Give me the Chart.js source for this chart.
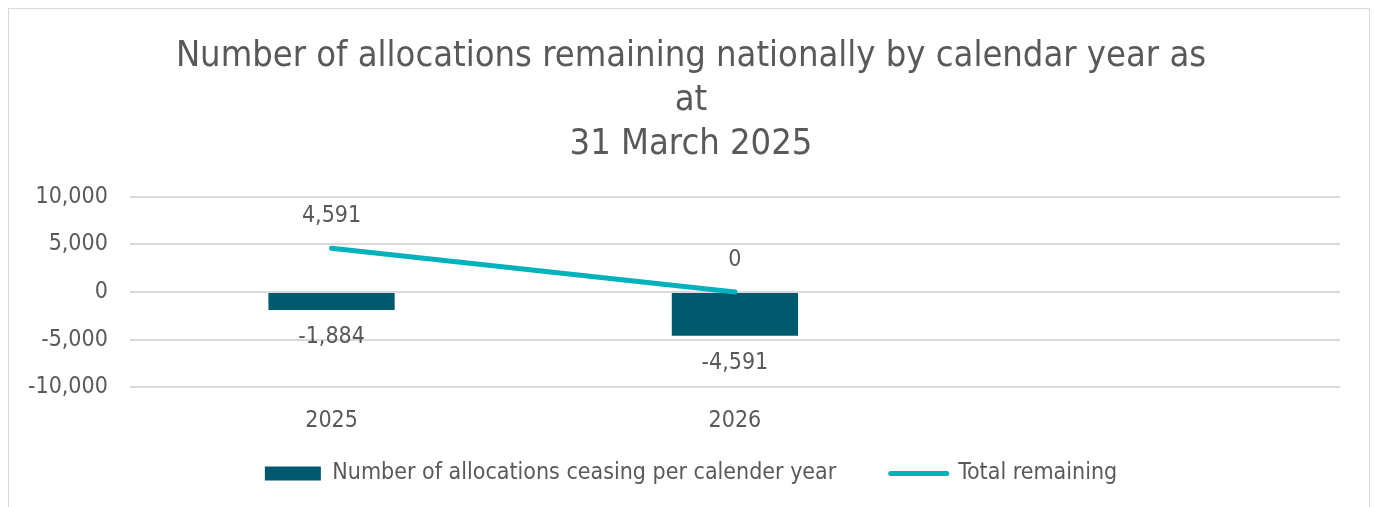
<!DOCTYPE html>
<html>
<head>
<meta charset="utf-8">
<script src="https://cdn.jsdelivr.net/npm/chart.js@4.4.1/dist/chart.umd.min.js"></script>
<style>
  html, body { margin: 0; padding: 0; background: #fff; }
  #wrap { position: relative; width: 1375px; height: 507px; overflow: hidden; }
  #frame { position: absolute; left: 8px; top: 8px; width: 1362px; height: 520px; border: 1px solid #d9d9d9; box-sizing: border-box; }
  canvas { position: absolute; left: 0; top: 0; }
</style>
</head>
<body>
<div id="wrap">
  <div id="frame"></div>
  <canvas id="chart" width="1375" height="507"></canvas>
</div>
<script>
// Data
const YEARS = ['2025', '2026', ''];
const CEASING = [-1884, -4591, null];
const REMAINING = [4591, 0, null];
const TITLE = ['Number of allocations remaining nationally by calendar year as', 'at', '31 March 2025'];
const SERIES_NAMES = ['Number of allocations ceasing per calender year', 'Total remaining'];

const FONT = '"DejaVu Sans Condensed", "DejaVu Sans", sans-serif';
const GREY = '#595959';
const BAR = '#005a6e';
const LINE = '#00b2bb';

// value labels, Excel style: above the line points, below the bar ends
const valueLabels = {
  id: 'valueLabels',
  afterDatasetsDraw(chart) {
    const { ctx } = chart;
    ctx.save();
    ctx.font = `23px ${FONT}`;
    ctx.fillStyle = GREY;
    ctx.textAlign = 'center';
    ctx.textBaseline = 'middle';
    chart.data.datasets.forEach((ds, di) => {
      chart.getDatasetMeta(di).data.forEach((el, i) => {
        const v = ds.data[i];
        if (v == null) return;
        const txt = v.toLocaleString('en-US');
        if (ds.type === 'bar') ctx.fillText(txt, el.x, el.y + 27);
        else ctx.fillText(txt, el.x, el.y - 32);
      });
    });
    ctx.restore();
  },
};

// Excel centres title and legend on the whole chart box, not the plot side
const centreShift = {
  id: 'centreShift',
  afterLayout(chart) {
    [chart.titleBlock, chart.legend].forEach((b) => { if (b) { b.left += 18; b.right += 18; } });
  },
};

new Chart(document.getElementById('chart'), {
  data: {
    labels: YEARS,
    datasets: [
      { type: 'bar', label: SERIES_NAMES[0], data: CEASING, backgroundColor: BAR, borderWidth: 0, categoryPercentage: 1, barPercentage: 0.313, order: 1 },
      { type: 'line', label: SERIES_NAMES[1], data: REMAINING, borderColor: LINE, backgroundColor: LINE, borderWidth: 5, borderCapStyle: 'round', pointRadius: 0, tension: 0, order: 0 },
    ],
  },
  options: {
    responsive: false,
    animation: false,
    layout: { padding: { left: 6, right: 35, top: 0, bottom: 12 } },
    plugins: {
      title: {
        display: true, text: TITLE, color: GREY,
        font: { family: FONT, size: 36, weight: 'normal', lineHeight: 1.22 },
        padding: { top: 35, bottom: 30 },
      },
      legend: {
        position: 'bottom',
        labels: {
          color: GREY, font: { family: FONT, size: 23 },
          usePointStyle: true, pointStyleWidth: 56, boxHeight: 14, padding: 15,
          generateLabels(chart) {
            // trailing spaces widen the gap between the two entries like Excel does
            return chart.data.datasets.map((ds, i) => ({
              text: i === 0 ? ds.label + '      ' : ds.label, datasetIndex: i,
              fillStyle: ds.type === 'bar' ? BAR : LINE,
              strokeStyle: ds.type === 'bar' ? BAR : LINE,
              lineWidth: ds.type === 'bar' ? 0 : 5,
              lineCap: 'round',
              pointStyle: ds.type === 'bar' ? 'rect' : 'line',
              fontColor: GREY,
            }));
          },
        },
      },
      tooltip: { enabled: false },
    },
    scales: {
      x: {
        grid: { display: false }, border: { display: false },
        ticks: { color: GREY, font: { family: FONT, size: 23 }, padding: 12 },
      },
      y: {
        min: -10000, max: 10000,
        grid: { color: '#d9d9d9', lineWidth: 2, drawTicks: false }, border: { display: false },
        ticks: { stepSize: 5000, color: GREY, font: { family: FONT, size: 23 }, padding: 22, callback: (v) => v.toLocaleString('en-US') },
      },
    },
  },
  plugins: [valueLabels, centreShift],
});
</script>
</body>
</html>
